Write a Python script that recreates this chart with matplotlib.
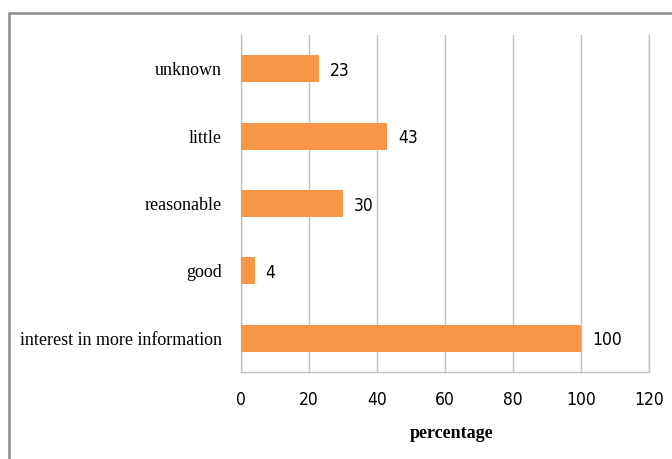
import matplotlib.pyplot as plt
from matplotlib.patches import Rectangle
from matplotlib import font_manager

categories = ["interest in more information", "good", "reasonable", "little", "unknown"]
values = [100, 4, 30, 43, 23]
xticks = [0, 20, 40, 60, 80, 100, 120]

# narrow sans for the numbers, fall back to plain DejaVu
names = {f.name for f in font_manager.fontManager.ttflist}
narrow = "Liberation Sans Narrow" if "Liberation Sans Narrow" in names else "DejaVu Sans"
num_font = dict(family=narrow, stretch="condensed", fontsize=12.5)

fig = plt.figure(figsize=(6.72, 4.59), dpi=100)
ax = fig.add_axes([241/672, 1 - 372/459, 408/672, 337/459])

# outer chart frame (runs off the right and bottom edge)
fig.patches.append(Rectangle((9/672, -0.05), 1.0, 1 - 13/459 + 0.05,
                             transform=fig.transFigure, fill=False,
                             edgecolor="#8c8c8c", linewidth=1.8))

pos = range(len(categories))
ax.barh(pos, values, height=0.4, color="#F79646", zorder=3)

for y, v in zip(pos, values):
    ax.text(v + 3.2, y - 0.03, str(v), va="center", ha="left", **num_font)

ax.set_xlim(0, 120)
ax.set_ylim(-0.5, len(categories) - 0.5)
ax.set_xticks(xticks)
ax.set_xticklabels([str(t) for t in xticks], **num_font)
ax.set_yticks(list(pos))
ax.set_yticklabels(categories, fontsize=13, family="Liberation Serif")
ax.tick_params(length=0)
ax.tick_params(axis="x", pad=14)
ax.tick_params(axis="y", pad=14)

ax.grid(axis="x", color="#c0c0c0", linewidth=1, zorder=0)
ax.spines["top"].set_visible(False)
for s in ["left", "bottom", "right"]:
    ax.spines[s].set_color("#c0c0c0")
    ax.spines[s].set_linewidth(1)

fig.text(452/672, 1 - 433/459, "percentage", ha="center", va="center",
         fontsize=13, fontweight="bold", family="Liberation Serif")

fig.savefig("out.png", dpi=100)
